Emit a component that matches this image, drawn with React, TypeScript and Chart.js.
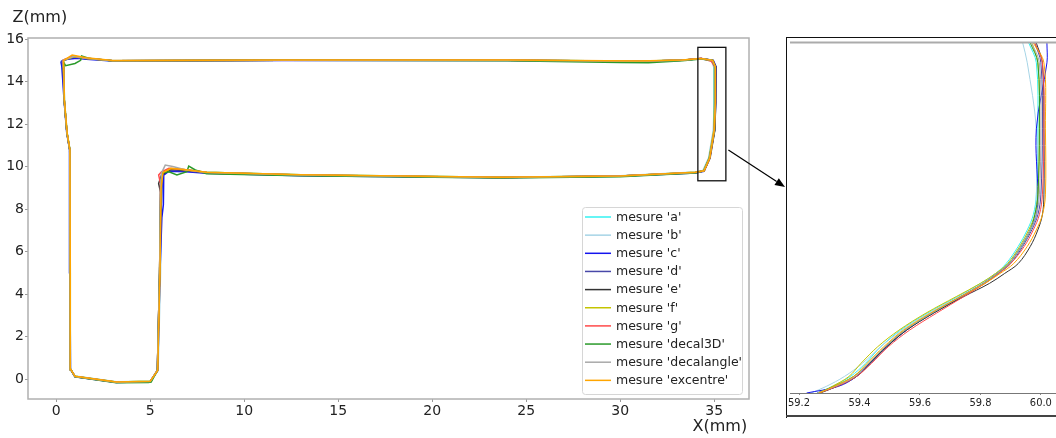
import React, { useEffect, useRef } from "react";
import { Chart, registerables } from "chart.js";

Chart.register(...registerables);
Chart.defaults.font.family = "'DejaVu Sans', sans-serif";

// ---------- labels & ticks ----------
const SERIES_LABELS = [
  "mesure 'a'",
  "mesure 'b'",
  "mesure 'c'",
  "mesure 'd'",
  "mesure 'e'",
  "mesure 'f'",
  "mesure 'g'",
  "mesure 'decal3D'",
  "mesure 'decalangle'",
  "mesure 'excentre'",
];
const SERIES_COLORS = [
  "#33f2f2",
  "#a6d4e6",
  "#1414ee",
  "#4848a8",
  "#333333",
  "#c4c400",
  "#ff4a4a",
  "#2a9a2a",
  "#a9a9a9",
  "#ffa500",
];
const X_TICKS = [0, 5, 10, 15, 20, 25, 30, 35];
const Z_TICKS = [0, 2, 4, 6, 8, 10, 12, 14, 16];
const INSET_X_TICKS = [59.2, 59.4, 59.6, 59.8, 60.0];

// ---------- main profile measurements [X(mm), Z(mm)] ----------
const MESURE_A = [
  [0.4, 15.0], [0.9, 15.15], [1.6, 15.08], [3.0, 14.97], [12, 15.0], [24, 15.01], [31, 14.96], [33.3, 15.01],
  [34.3, 15.07], [34.9, 14.98], [35.02, 14.7], [35.0, 13.0], [34.97, 11.7], [34.72, 10.4], [34.42, 9.8], [34.0, 9.73],
  [30, 9.56], [23.6, 9.5], [13, 9.61], [8, 9.73], [6.9, 9.83], [6.1, 9.88], [5.68, 9.7], [5.6, 9.0],
  [5.52, 5.0], [5.4, 0.4], [5.02, -0.1], [3.2, -0.14], [1.0, 0.13], [0.78, 0.45], [0.75, 5.0], [0.73, 10.8],
  [0.58, 11.6], [0.44, 13.1], [0.4, 14.7], [0.4, 15.0],
];
const MESURE_B = [
  [0.35, 15.0], [0.9, 15.18], [1.6, 15.1], [3.0, 14.99], [12, 15.01], [24, 15.0], [31, 14.97], [33.3, 15.0],
  [34.3, 15.06], [34.88, 14.97], [35.0, 14.6], [35.0, 13.0], [34.95, 11.7], [34.7, 10.4], [34.4, 9.82], [34.0, 9.74],
  [30, 9.57], [23.6, 9.5], [13, 9.6], [8, 9.73], [6.9, 9.85], [6.1, 9.9], [5.7, 9.72], [5.6, 9.0],
  [5.55, 5.0], [5.42, 0.4], [5.02, -0.1], [3.2, -0.13], [1.0, 0.14], [0.76, 0.45], [0.73, 5.0], [0.71, 10.8],
  [0.56, 11.6], [0.42, 13.1], [0.38, 14.7], [0.35, 15.0],
];
const MESURE_C = [
  [0.25, 14.95], [0.6, 15.05], [1.1, 15.1], [1.6, 15.05], [3.0, 14.97], [12, 14.99], [24, 14.99], [31, 14.95],
  [33.3, 15.0], [34.3, 15.09], [34.95, 15.0], [35.1, 14.7], [35.08, 13.0], [35.02, 11.7], [34.76, 10.4], [34.45, 9.78],
  [34.0, 9.7], [30, 9.54], [23.6, 9.47], [13, 9.57], [8, 9.68], [6.9, 9.76], [6.0, 9.78], [5.72, 9.6],
  [5.7, 8.2], [5.62, 7.6], [5.52, 5.0], [5.4, 0.4], [5.0, -0.13], [3.2, -0.16], [1.0, 0.11], [0.76, 0.45],
  [0.73, 5.0], [0.71, 10.8], [0.56, 11.6], [0.42, 13.1], [0.3, 14.7], [0.25, 14.95],
];
const MESURE_D = [
  [0.3, 14.98], [0.9, 15.15], [1.6, 15.08], [3.0, 14.98], [12, 15.0], [24, 15.0], [31, 14.95], [33.3, 15.0],
  [34.3, 15.08], [34.92, 15.0], [35.07, 14.7], [35.06, 13.0], [35.0, 11.7], [34.75, 10.4], [34.46, 9.8], [34.0, 9.71],
  [30, 9.55], [23.6, 9.48], [13, 9.59], [8, 9.7], [6.9, 9.8], [6.0, 9.82], [5.65, 9.65], [5.6, 8.5],
  [5.5, 5.0], [5.38, 0.4], [5.0, -0.12], [3.2, -0.15], [1.0, 0.12], [0.77, 0.45], [0.74, 5.0], [0.72, 10.8],
  [0.57, 11.6], [0.43, 13.1], [0.35, 14.7], [0.3, 14.98],
];
const MESURE_E = [
  [0.37, 15.0], [0.95, 15.18], [1.6, 15.1], [3.0, 14.98], [12, 15.0], [24, 15.0], [31, 14.95], [33.3, 15.0],
  [34.3, 15.08], [34.92, 15.01], [35.08, 14.7], [35.08, 13.0], [35.03, 11.7], [34.78, 10.4], [34.47, 9.8], [34.0, 9.72],
  [30, 9.55], [23.6, 9.49], [13, 9.6], [8, 9.72], [6.9, 9.83], [6.1, 9.88], [5.6, 9.6], [5.45, 9.2],
  [5.55, 8.8], [5.5, 5.0], [5.38, 0.4], [5.0, -0.12], [3.2, -0.15], [1.0, 0.12], [0.77, 0.45], [0.74, 5.0],
  [0.72, 10.8], [0.57, 11.6], [0.43, 13.1], [0.39, 14.7], [0.37, 15.0],
];
const MESURE_F = [
  [0.38, 15.0], [0.95, 15.17], [1.6, 15.09], [3.0, 14.98], [12, 15.0], [24, 15.01], [31, 14.96], [33.3, 15.01],
  [34.3, 15.07], [34.9, 14.99], [35.03, 14.7], [35.03, 13.0], [34.98, 11.7], [34.73, 10.4], [34.43, 9.8], [34.0, 9.73],
  [30, 9.56], [23.6, 9.5], [13, 9.61], [8, 9.73], [6.9, 9.85], [6.1, 9.9], [5.66, 9.7], [5.56, 9.0],
  [5.5, 5.0], [5.39, 0.4], [5.0, -0.11], [3.2, -0.14], [1.0, 0.13], [0.77, 0.45], [0.74, 5.0], [0.72, 10.8],
  [0.57, 11.6], [0.43, 13.1], [0.39, 14.7], [0.38, 15.0],
];
const MESURE_G = [
  [0.35, 15.0], [0.9, 15.2], [1.6, 15.1], [3.0, 14.98], [12, 15.0], [24, 15.0], [31, 14.95], [33.3, 15.0],
  [34.3, 15.1], [34.85, 14.95], [35.06, 14.65], [35.06, 13.0], [35.01, 11.7], [34.76, 10.4], [34.46, 9.8], [34.0, 9.72],
  [30, 9.55], [23.6, 9.49], [13, 9.6], [8, 9.72], [6.9, 9.85], [6.0, 9.92], [5.6, 9.75], [5.45, 9.6],
  [5.55, 9.2], [5.5, 5.0], [5.38, 0.4], [5.0, -0.12], [3.2, -0.15], [1.0, 0.12], [0.77, 0.45], [0.74, 5.0],
  [0.72, 10.8], [0.57, 11.6], [0.43, 13.1], [0.39, 14.7], [0.35, 15.0],
];
const MESURE_DECAL3D = [
  [0.4, 14.9], [0.5, 14.75], [1.0, 14.85], [1.3, 15.0], [1.35, 15.2], [1.8, 15.08], [3.0, 14.98], [12, 15.0],
  [24, 14.98], [30, 14.9], [31.5, 14.88], [33.3, 14.98], [34.3, 15.06], [34.9, 15.0], [35.04, 14.7], [35.04, 13.0],
  [34.99, 11.7], [34.74, 10.4], [34.44, 9.8], [34.0, 9.7], [30, 9.52], [23.6, 9.46], [13, 9.57], [8, 9.66],
  [7.4, 9.84], [7.05, 10.02], [6.95, 9.76], [6.42, 9.6], [6.0, 9.75], [5.65, 9.7], [5.56, 9.0], [5.5, 5.0],
  [5.38, 0.4], [5.05, -0.14], [4.9, -0.16], [3.2, -0.18], [1.0, 0.1], [0.77, 0.45], [0.74, 5.0], [0.72, 10.8],
  [0.57, 11.6], [0.43, 13.1], [0.39, 14.7], [0.4, 14.9],
];
const MESURE_DECALANGLE = [
  [0.37, 15.0], [0.95, 15.19], [1.6, 15.1], [3.0, 14.98], [12, 15.0], [24, 15.0], [31, 14.95], [33.3, 15.0],
  [34.3, 15.08], [34.9, 15.0], [35.05, 14.7], [35.05, 13.0], [35.0, 11.7], [34.75, 10.4], [34.45, 9.8], [34.0, 9.72],
  [30, 9.55], [23.6, 9.49], [13, 9.6], [8, 9.72], [6.9, 9.84], [6.2, 10.0], [5.8, 10.07], [5.6, 9.7],
  [5.55, 9.0], [5.5, 5.0], [5.38, 0.4], [5.0, -0.12], [3.2, -0.15], [1.0, 0.12], [0.77, 0.45], [0.74, 5.0],
  [0.72, 10.8], [0.57, 11.6], [0.43, 13.1], [0.39, 14.7], [0.37, 15.0],
];
const MESURE_EXCENTRE = [
  [0.4, 15.0], [0.85, 15.25], [1.6, 15.12], [3.0, 14.99], [12, 15.01], [24, 15.01], [31, 14.97], [33.3, 15.01],
  [34.3, 15.09], [34.92, 15.0], [35.06, 14.7], [35.06, 13.0], [35.0, 11.7], [34.76, 10.4], [34.46, 9.8], [34.0, 9.73],
  [30, 9.56], [23.6, 9.5], [13, 9.61], [8, 9.73], [6.9, 9.85], [6.1, 9.92], [5.68, 9.72], [5.58, 9.0],
  [5.52, 5.0], [5.4, 0.4], [5.0, -0.11], [3.2, -0.14], [1.0, 0.13], [0.78, 0.45], [0.75, 5.0], [0.73, 10.8],
  [0.58, 11.6], [0.44, 13.1], [0.4, 14.7], [0.4, 15.0],
];
const MAIN_SERIES = [
  MESURE_A, MESURE_B, MESURE_C, MESURE_D, MESURE_E,
  MESURE_F, MESURE_G, MESURE_DECAL3D, MESURE_DECALANGLE, MESURE_EXCENTRE,
];

// zoomed region (data coords of the framed window)
const ZOOM_X = [34.13, 35.62];
const ZOOM_Z = [9.33, 15.61];

// ---------- inset (zoomed right flank) ----------
const INSET_Z = [15.0, 14.7, 13.7, 12.7, 12.4, 12.17, 11.92, 11.66, 11.51, 11.36, 11.16, 10.91, 10.65, 10.4, 10.15, 9.95, 9.8, 9.7];
const INSET_A = [59.96, 59.985, 59.99, 59.985, 59.975, 59.955, 59.925, 59.885, 59.85, 59.8, 59.725, 59.625, 59.535, 59.47, 59.42, 59.37, 59.31, 59.26];
const INSET_B = [59.94, 59.955, 59.985, 59.985, 59.98, 59.96, 59.93, 59.89, 59.85, 59.805, 59.73, 59.63, 59.54, 59.47, 59.41, 59.35, 59.29, 59.24];
const INSET_C = [60.02, 60.02, 59.985, 59.99, 59.985, 59.965, 59.935, 59.895, 59.855, 59.81, 59.735, 59.64, 59.555, 59.49, 59.435, 59.39, 59.33, 59.225];
const INSET_D = [59.98, 60.0, 60.005, 60.0, 59.99, 59.97, 59.94, 59.9, 59.86, 59.815, 59.74, 59.645, 59.555, 59.49, 59.435, 59.39, 59.325, 59.265];
const INSET_E = [59.985, 60.005, 60.01, 60.01, 60.005, 59.99, 59.965, 59.925, 59.88, 59.83, 59.745, 59.645, 59.555, 59.49, 59.435, 59.39, 59.325, 59.27];
const INSET_F = [59.97, 59.99, 59.995, 59.99, 59.98, 59.96, 59.93, 59.89, 59.85, 59.8, 59.72, 59.62, 59.53, 59.46, 59.405, 59.365, 59.31, 59.27];
const INSET_G = [59.98, 60.005, 60.01, 60.005, 59.995, 59.975, 59.945, 59.9, 59.86, 59.815, 59.745, 59.655, 59.565, 59.495, 59.44, 59.39, 59.325, 59.265];
const INSET_DECAL3D = [59.965, 59.99, 59.995, 59.99, 59.98, 59.965, 59.935, 59.895, 59.855, 59.81, 59.735, 59.64, 59.55, 59.485, 59.43, 59.38, 59.315, 59.26];
const INSET_DECALANGLE = [59.97, 59.995, 60.0, 59.995, 59.985, 59.965, 59.935, 59.895, 59.855, 59.81, 59.735, 59.64, 59.55, 59.485, 59.43, 59.385, 59.32, 59.26];
const INSET_EXCENTRE = [59.975, 60.01, 60.015, 60.015, 60.005, 59.985, 59.955, 59.91, 59.865, 59.815, 59.735, 59.635, 59.545, 59.48, 59.425, 59.38, 59.315, 59.265];
const INSET_SERIES = [
  INSET_A, INSET_B, INSET_C, INSET_D, INSET_E,
  INSET_F, INSET_G, INSET_DECAL3D, INSET_DECALANGLE, INSET_EXCENTRE,
];

const TEXT = "#222";

const mainDecor = {
  id: "mainDecor",
  afterDraw(chart: any) {
    const { ctx, chartArea: a, scales } = chart;
    const xs = scales.x;
    const ys = scales.y;
    ctx.save();
    // spines
    ctx.strokeStyle = "#b0b0b0";
    ctx.lineWidth = 1.5;
    ctx.strokeRect(a.left, a.top, a.right - a.left, a.bottom - a.top);

    // zoom frame
    const rx0 = xs.getPixelForValue(ZOOM_X[0]);
    const rx1 = xs.getPixelForValue(ZOOM_X[1]);
    const ry0 = ys.getPixelForValue(ZOOM_Z[1]);
    const ry1 = ys.getPixelForValue(ZOOM_Z[0]);
    ctx.strokeStyle = "#111";
    ctx.lineWidth = 1.3;
    ctx.strokeRect(rx0, ry0, rx1 - rx0, ry1 - ry0);

    // arrow towards the inset
    const sx = rx1 + 2.5;
    const sy = ys.getPixelForValue(10.78);
    const ex = 785;
    const ey = 187;
    const ang = Math.atan2(ey - sy, ex - sx);
    const hl = 10;
    const hw = 4;
    const bx = ex - hl * Math.cos(ang);
    const by = ey - hl * Math.sin(ang);
    ctx.strokeStyle = "#000";
    ctx.lineWidth = 1.2;
    ctx.beginPath();
    ctx.moveTo(sx, sy);
    ctx.lineTo(bx, by);
    ctx.stroke();
    ctx.fillStyle = "#000";
    ctx.beginPath();
    ctx.moveTo(ex, ey);
    ctx.lineTo(bx + hw * Math.sin(ang), by - hw * Math.cos(ang));
    ctx.lineTo(bx - hw * Math.sin(ang), by + hw * Math.cos(ang));
    ctx.closePath();
    ctx.fill();

    // legend
    const lx = 582.5;
    const ly = 207.5;
    const lw = 160;
    const lh = 187;
    ctx.fillStyle = "rgba(255,255,255,0.85)";
    ctx.strokeStyle = "#d6d6d6";
    ctx.lineWidth = 1;
    ctx.beginPath();
    if ((ctx as any).roundRect) (ctx as any).roundRect(lx, ly, lw, lh, 3);
    else ctx.rect(lx, ly, lw, lh);
    ctx.fill();
    ctx.stroke();
    ctx.font = "12.5px 'DejaVu Sans', sans-serif";
    ctx.textBaseline = "middle";
    ctx.textAlign = "left";
    chart.data.datasets.forEach((ds: any, i: number) => {
      const yy = 217 + i * 18.15;
      ctx.strokeStyle = ds.borderColor;
      ctx.lineWidth = 1.5;
      ctx.beginPath();
      ctx.moveTo(585, yy);
      ctx.lineTo(611, yy);
      ctx.stroke();
      ctx.fillStyle = TEXT;
      ctx.fillText(ds.label, 616, yy + 0.5);
    });

    // axis titles
    ctx.fillStyle = TEXT;
    ctx.font = "16px 'DejaVu Sans', sans-serif";
    ctx.textBaseline = "alphabetic";
    ctx.fillText("Z(mm)", 12.5, 22);
    ctx.fillText("X(mm)", 692.5, 431);
    ctx.restore();
  },
};

const insetDecor = {
  id: "insetDecor",
  afterDraw(chart: any) {
    const { ctx, chartArea: a, width, height } = chart;
    ctx.save();
    // outer frame
    ctx.strokeStyle = "#111";
    ctx.lineWidth = 1;
    ctx.beginPath();
    ctx.moveTo(0.5, 1.5);
    ctx.lineTo(width, 1.5);
    ctx.moveTo(0.5, 1);
    ctx.lineTo(0.5, height);
    ctx.stroke();
    ctx.strokeStyle = "#444";
    ctx.lineWidth = 2;
    ctx.beginPath();
    ctx.moveTo(0, height - 2);
    ctx.lineTo(width, height - 2);
    ctx.stroke();
    // top grey band
    ctx.strokeStyle = "#ababab";
    ctx.lineWidth = 2.2;
    ctx.beginPath();
    ctx.moveTo(a.left, a.top - 0.5);
    ctx.lineTo(a.right, a.top - 0.5);
    ctx.stroke();
    // bottom axis line
    ctx.strokeStyle = "#777";
    ctx.lineWidth = 1;
    ctx.beginPath();
    ctx.moveTo(a.left, a.bottom + 0.5);
    ctx.lineTo(a.right, a.bottom + 0.5);
    ctx.stroke();
    ctx.restore();
  },
};

export default function App() {
  const mainRef = useRef<HTMLCanvasElement>(null);
  const insetRef = useRef<HTMLCanvasElement>(null);

  useEffect(() => {
    const n = SERIES_LABELS.length;
    const main = new Chart(mainRef.current as HTMLCanvasElement, {
      type: "scatter",
      data: {
        datasets: MAIN_SERIES.map((pts, i) => ({
          label: SERIES_LABELS[i],
          data: pts.map((p) => ({ x: p[0], y: p[1] })),
          borderColor: SERIES_COLORS[i],
          backgroundColor: SERIES_COLORS[i],
          showLine: true,
          borderWidth: 1.5,
          pointRadius: 0,
          tension: 0,
          order: n - 1 - i,
        })),
      },
      options: {
        responsive: false,
        animation: false,
        events: [],
        layout: { padding: { top: 38, right: 41, left: 0, bottom: 0 } },
        plugins: { legend: { display: false }, tooltip: { enabled: false } },
        scales: {
          x: {
            type: "linear",
            min: -1.5,
            max: 36.85,
            afterBuildTicks: (s: any) => {
              s.ticks = X_TICKS.map((v) => ({ value: v }));
            },
            afterFit: (s: any) => {
              s.height = 39;
            },
            grid: { drawOnChartArea: false, drawTicks: true, tickLength: 3, color: "#999" },
            border: { display: false },
            ticks: { color: TEXT, font: { size: 14 }, padding: 1, maxRotation: 0, autoSkip: false },
          },
          y: {
            type: "linear",
            min: -0.94,
            max: 16.05,
            afterBuildTicks: (s: any) => {
              s.ticks = Z_TICKS.map((v) => ({ value: v }));
            },
            afterFit: (s: any) => {
              s.width = 28;
            },
            grid: { drawOnChartArea: false, drawTicks: true, tickLength: 3, color: "#999" },
            border: { display: false },
            ticks: { color: TEXT, font: { size: 14 }, padding: 1, autoSkip: false },
          },
        },
      },
      plugins: [mainDecor],
    } as any);

    const inset = new Chart(insetRef.current as HTMLCanvasElement, {
      type: "scatter",
      data: {
        datasets: INSET_SERIES.map((xs, i) => ({
          label: SERIES_LABELS[i],
          data: xs.map((x, k) => ({ x, y: INSET_Z[k] })),
          borderColor: SERIES_COLORS[i],
          backgroundColor: SERIES_COLORS[i],
          showLine: true,
          borderWidth: 1,
          pointRadius: 0,
          tension: 0.35,
          order: n - 1 - i,
        })),
      },
      options: {
        responsive: false,
        animation: false,
        events: [],
        layout: { padding: { top: 7, right: 0, left: 1, bottom: 0 } },
        plugins: { legend: { display: false }, tooltip: { enabled: false } },
        scales: {
          x: {
            type: "linear",
            min: 59.17,
            max: 60.05,
            afterBuildTicks: (s: any) => {
              s.ticks = INSET_X_TICKS.map((v) => ({ value: v }));
            },
            afterFit: (s: any) => {
              s.height = 25;
            },
            grid: { drawOnChartArea: false, drawTicks: true, tickLength: 2, color: "#888" },
            border: { display: false },
            ticks: {
              color: TEXT,
              font: { size: 11, family: "'Liberation Sans Narrow', 'DejaVu Sans Condensed', sans-serif" },
              padding: 2,
              maxRotation: 0,
              autoSkip: false,
              callback: (v: any) => Number(v).toFixed(1),
            },
          },
          y: {
            type: "linear",
            display: false,
            min: 9.7,
            max: 15.0,
          },
        },
      },
      plugins: [insetDecor],
    } as any);

    return () => {
      main.destroy();
      inset.destroy();
    };
  }, []);

  return (
    <div
      style={{
        position: "absolute",
        left: 0,
        top: 0,
        width: 1056,
        height: 438,
        background: "#fff",
        overflow: "hidden",
      }}
    >
      <canvas
        ref={mainRef}
        width={790}
        height={438}
        style={{ position: "absolute", left: 0, top: 0, width: 790, height: 438 }}
      />
      <canvas
        ref={insetRef}
        width={270}
        height={382}
        style={{ position: "absolute", left: 786, top: 36, width: 270, height: 382 }}
      />
    </div>
  );
}
